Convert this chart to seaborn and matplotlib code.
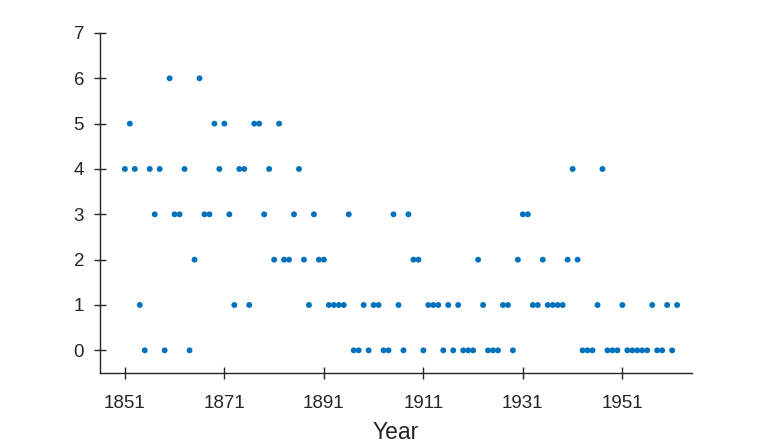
import numpy as np
import pandas as pd
import seaborn as sns
import matplotlib
matplotlib.use('Agg')
import matplotlib.pyplot as plt

# yearly counts (1851-1962)
years = list(range(1851, 1963))
counts = [4, 5, 4, 1, 0, 4, 3, 4, 0, 6, 3, 3, 4, 0, 2, 6, 3, 3, 5, 4,
          5, 3, 1, 4, 4, 1, 5, 5, 3, 4, 2, 5, 2, 2, 3, 4, 2, 1, 3, 2,
          2, 1, 1, 1, 1, 3, 0, 0, 1, 0, 1, 1, 0, 0, 3, 1, 0, 3, 2, 2,
          0, 1, 1, 1, 0, 1, 0, 1, 0, 0, 0, 2, 1, 0, 0, 0, 1, 1, 0, 2,
          3, 3, 1, 1, 2, 1, 1, 1, 1, 2, 4, 2, 0, 0, 0, 1, 4, 0, 0, 0,
          1, 0, 0, 0, 0, 0, 1, 0, 0, 1, 0, 1]
xtick_years = [1851, 1871, 1891, 1911, 1931, 1951]
ytick_vals = list(range(0, 8))

df = pd.DataFrame({'Year': years, 'Count': counts})

sns.set_style("ticks")
plt.rcParams['font.family'] = ['Liberation Sans', 'DejaVu Sans']

fig = plt.figure(figsize=(7.65, 4.48), dpi=100)
ax = fig.add_axes([0.1307, 0.1674, 0.7739, 0.759])

sns.scatterplot(data=df, x='Year', y='Count', color='#0072BD', s=18,
                edgecolor='none', ax=ax)

ax.set_xlim(1846, 1965)
ax.set_ylim(-0.5, 7)
ax.set_xticks(xtick_years)
ax.set_yticks(ytick_vals)
ax.set_xlabel('Year', fontsize=16.5, color='#262626', labelpad=6)
ax.set_ylabel('')

sns.despine(ax=ax)
for side in ['left', 'bottom']:
    ax.spines[side].set_color('#262626')
    ax.spines[side].set_linewidth(1.0)
ax.tick_params(axis='both', direction='inout', length=9, width=1.0,
               color='#262626', labelcolor='#262626', labelsize=13.5)
ax.tick_params(axis='x', pad=11.5)
ax.tick_params(axis='y', pad=7)

plt.savefig('out.png', dpi=100)
plt.close()
